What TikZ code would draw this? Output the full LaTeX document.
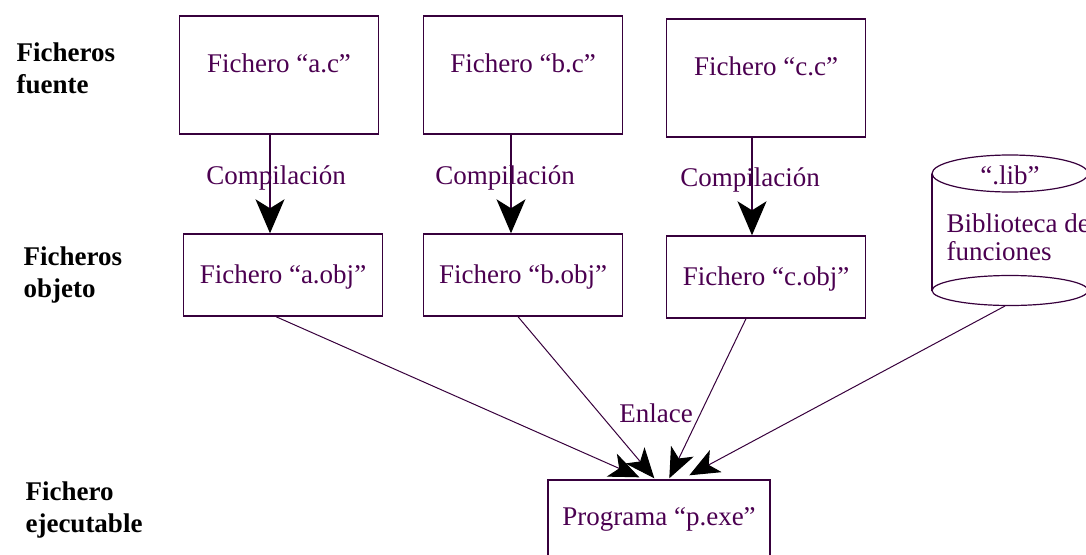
\documentclass[tikz,border=0pt]{standalone}
\usepackage{fontspec}
\setmainfont{Liberation Serif}
\usetikzlibrary{arrows.meta,positioning}
\definecolor{linea}{RGB}{55,0,60}
\definecolor{texto}{RGB}{75,0,80}

\begin{document}
\begin{tikzpicture}[x=1pt, y=-1pt, node distance=244pt,
  block/.style={rectangle, draw=linea, line width=1.4pt, minimum width=199pt, inner sep=0pt, text=texto, font=\fontsize{27}{31}\selectfont},
  fuente/.style={block, text height=56pt, text depth=62pt},
  objeto/.style={block, text height=49pt, text depth=33pt},
  rotulo/.style={align=left, anchor=base west, font=\bfseries\fontsize{27}{32}\selectfont},
  etiqueta/.style={text=texto, font=\fontsize{27}{28}\selectfont},
  compila/.style={draw=linea, line width=1.3pt, -{Stealth[length=34pt, width=29pt, inset=9pt, black]}},
  enlace/.style={draw=linea, line width=1pt, -{Stealth[length=30pt, width=25pt, inset=8pt, black]}}]

  \useasboundingbox (0,0) rectangle (1086,554);
  \clip (0,0) rectangle (1086,554);

  % rotulos de la izquierda (base = ultima linea)
  \node[rotulo] (lfuente) at (13,93) {Ficheros\\fuente};
  \node[rotulo] (lobjeto) at (20,297) {Ficheros\\objeto};
  \node[rotulo] (lejec) at (22,532) {Fichero\\ejecutable};

  \node[fuente] (fa) at (279,75) {Fichero “a.c”};
  \node[fuente, right of=fa] (fb) {Fichero “b.c”};
  \node[fuente, right of=fb, node distance=243pt, yshift=-3pt] (fc) {Fichero “c.c”};

  \node[objeto] (oa) at (283,275) {Fichero “a.obj”};
  \node[objeto, right of=oa, node distance=240pt] (ob) {Fichero “b.obj”};
  \node[objeto, right of=ob, node distance=243pt, yshift=-2pt] (oc) {Fichero “c.obj”};

  \node[block, text height=45pt, text depth=45pt, minimum width=222pt] (pe) at (659,525) {Programa “p.exe”};

  % biblioteca
  \draw[linea, line width=1.2pt] (1010,173.5) ellipse [x radius=78pt, y radius=18.5pt];
  \draw[linea, line width=1.2pt] (1010,290.5) ellipse [x radius=78pt, y radius=15pt];
  \draw[linea, line width=1.2pt] (932,173.5) -- (932,290.5);
  \draw[linea, line width=1.2pt] (1088,173.5) -- (1088,290.5);
  \node[etiqueta, anchor=base] (lib) at (1010,184) {“.lib”};
  \node[etiqueta, anchor=base west, align=left] (bib) at (943,260) {Biblioteca de\\funciones};
  \coordinate (libsal) at (1005,306);

  \draw[compila] ([xshift=-9pt]fa.south) -- node[etiqueta, anchor=base, xshift=6pt, pos=0.51] (ca) {Compilación} ([xshift=-9pt]fa.south |- oa.north);
  \draw[compila] ([xshift=-12pt]fb.south) -- node[etiqueta, anchor=base, xshift=-6pt, pos=0.51] (cb) {Compilación} ([xshift=-12pt]fb.south |- ob.north);
  \draw[compila] ([xshift=-14pt]fc.south) -- node[etiqueta, anchor=base, xshift=-2pt, pos=0.5] (cc) {Compilación} ([xshift=-14pt]fc.south |- oc.north);

  \draw[enlace] ([xshift=-7pt]oa.south) -- ([xshift=92pt, yshift=2pt]pe.north west);
  \draw[enlace] ([xshift=-5pt]ob.south) -- ([xshift=107pt, yshift=1pt]pe.north west);
  \draw[enlace] ([xshift=-20pt]oc.south) -- ([xshift=122pt, yshift=1pt]pe.north west);
  \draw[enlace] (libsal) -- ([xshift=142pt, yshift=4pt]pe.north west);

  \node[etiqueta, anchor=base] (enl) at (656,422) {Enlace};
\end{tikzpicture}
\end{document}
